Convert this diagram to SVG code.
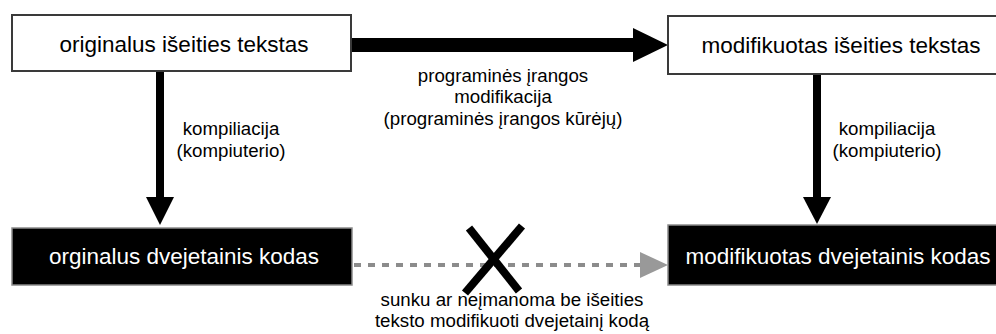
<svg xmlns="http://www.w3.org/2000/svg" width="996" height="334" viewBox="0 0 996 334">
  <style>
    .src { fill: #ffffff; stroke: #3a3a3a; stroke-width: 2; }
    .bin { fill: #000000; stroke: #8a8a8a; stroke-width: 1.5; }
    .box-text { font-family: "Liberation Sans", Arial, sans-serif; font-size: 22.5px; text-anchor: middle; }
    .src-text { fill: #000000; }
    .bin-text { fill: #ffffff; }
    .label { font-family: "Liberation Sans", Arial, sans-serif; font-size: 18.7px; fill: #000000; text-anchor: middle; }
    .solid { fill: #000000; }
    .dashed { stroke: #8c8c8c; stroke-width: 4; stroke-dasharray: 7 7; fill: none; }
    .dash-head { fill: #999999; }
    .cross { stroke: #000000; stroke-width: 8; }
  </style>

  <!-- connectors -->
  <g id="connectors">
    <!-- compile: original source -> original binary -->
    <rect class="solid" x="156" y="71" width="8" height="128"/>
    <polygon class="solid" points="146,197 174,197 160,225"/>
    <!-- compile: modified source -> modified binary -->
    <rect class="solid" x="813" y="74" width="8" height="125"/>
    <polygon class="solid" points="803,197 831,197 817,224"/>
    <!-- software modification: original source -> modified source -->
    <rect class="solid" x="352" y="38" width="283" height="14"/>
    <polygon class="solid" points="633,28 633,62 668,45"/>
    <!-- binary -> binary (not feasible) -->
    <line class="dashed" x1="354" y1="265" x2="641" y2="265"/>
    <polygon class="dash-head" points="640,252 640,278 668,265"/>
    <line class="cross" x1="469" y1="228" x2="519" y2="291"/>
    <line class="cross" x1="522" y1="226" x2="465" y2="293"/>
  </g>

  <!-- edge labels -->
  <g id="labels">
    <text class="label" x="231" y="135">kompiliacija</text>
    <text class="label" x="231" y="157">(kompiuterio)</text>
    <text class="label" x="887" y="135">kompiliacija</text>
    <text class="label" x="887" y="157">(kompiuterio)</text>
    <text class="label" x="503" y="82">programinės įrangos</text>
    <text class="label" x="503" y="103">modifikacija</text>
    <text class="label" x="503" y="125">(programinės įrangos kūrėjų)</text>
    <text class="label" x="512" y="306">sunku ar neįmanoma be išeities</text>
    <text class="label" x="512" y="327">teksto modifikuoti dvejetainį kodą</text>
  </g>

  <g id="original-source">
    <rect class="src" x="12" y="15" width="339" height="56"/>
    <text class="box-text src-text" x="184" y="52">originalus išeities tekstas</text>
  </g>

  <g id="modified-source">
    <rect class="src" x="668" y="16" width="346" height="58"/>
    <text class="box-text src-text" x="841" y="53">modifikuotas išeities tekstas</text>
  </g>

  <g id="original-binary">
    <rect class="bin" x="12" y="228" width="340" height="57"/>
    <text class="box-text bin-text" x="184" y="264">orginalus dvejetainis kodas</text>
  </g>

  <g id="modified-binary">
    <rect class="bin" x="668" y="225" width="346" height="60"/>
    <text class="box-text bin-text" x="838" y="264">modifikuotas dvejetainis kodas</text>
  </g>
</svg>
